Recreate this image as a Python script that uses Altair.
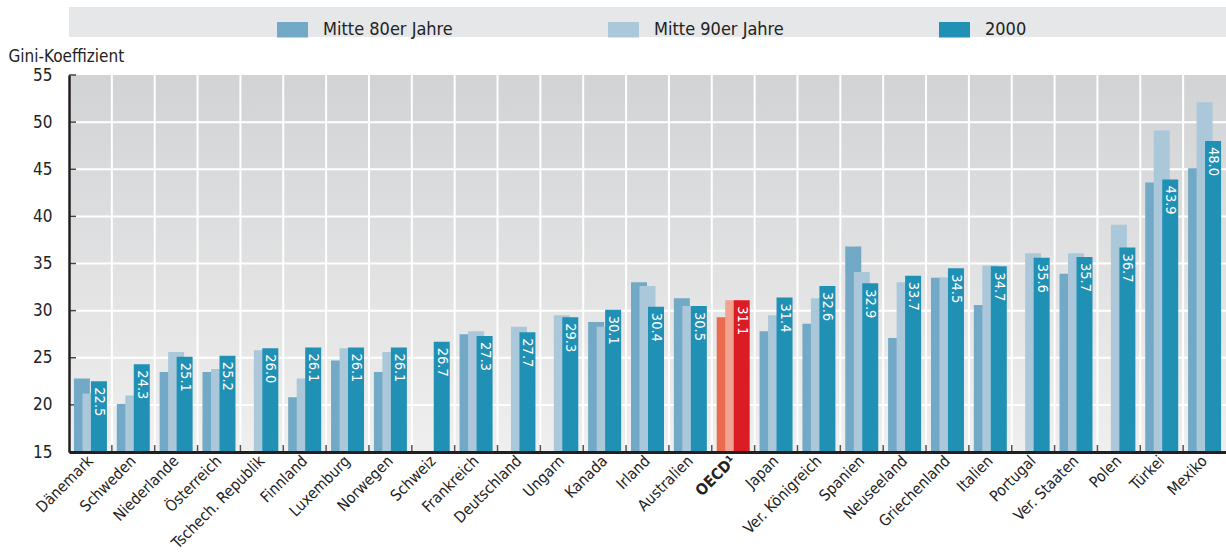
import altair as alt
import pandas as pd

countries = ["Dänemark", "Schweden", "Niederlande", "Österreich", "Tschech. Republik",
             "Finnland", "Luxemburg", "Norwegen", "Schweiz", "Frankreich", "Deutschland",
             "Ungarn", "Kanada", "Irland", "Australien", "OECD", "Japan", "Ver. Königreich",
             "Spanien", "Neuseeland", "Griechenland", "Italien", "Portugal", "Ver. Staaten",
             "Polen", "Türkei", "Mexiko"]
mid80 = [22.8, 20.1, 23.5, 23.5, None, 20.8, 24.7, 23.5, None, 27.5, None, None, 28.8, 33.0,
         31.3, 29.3, 27.8, 28.6, 36.8, 27.1, 33.5, 30.6, None, 33.9, None, 43.6, 45.1]
mid90 = [21.2, 21.0, 25.6, 23.8, 25.8, 22.8, 26.0, 25.6, None, 27.8, 28.3, 29.5, 28.3, 32.6,
         30.5, 31.1, 29.5, 31.3, 34.1, 33.0, 33.5, 34.8, 36.1, 36.1, 39.1, 49.1, 52.1]
y2000 = [22.5, 24.3, 25.1, 25.2, 26.0, 26.1, 26.1, 26.1, 26.7, 27.3, 27.7, 29.3, 30.1, 30.4,
         30.5, 31.1, 31.4, 32.6, 32.9, 33.7, 34.5, 34.7, 35.6, 35.7, 36.7, 43.9, 48.0]
series_names = ["Mitte 80er Jahre", "Mitte 90er Jahre", "2000"]
y_ticks = [15, 20, 25, 30, 35, 40, 45, 50, 55]

color_keys = series_names + ["OECD 80", "OECD 90", "OECD 2000"]
color_range = ["#71a9c6", "#aac8da", "#2190b5", "#e96b50", "#f2a38f", "#dc1c24"]

rows = []
for s, vals in zip(series_names, [mid80, mid90, y2000]):
    for c, v in zip(countries, vals):
        if v is None:
            continue
        if c == "OECD":
            key = {"Mitte 80er Jahre": "OECD 80", "Mitte 90er Jahre": "OECD 90", "2000": "OECD 2000"}[s]
        else:
            key = s
        rows.append({"country": c, "series": s, "value": v, "key": key, "label": f"{v:.1f}"})
df = pd.DataFrame(rows)

W, H = 1157, 377
BAND = W / len(countries)
FONT = "Liberation Sans Narrow, DejaVu Sans Condensed, Arial Narrow, sans-serif"

xscale = alt.Scale(domain=countries, paddingInner=0, paddingOuter=0)
yscale = alt.Scale(domain=[15, 55], nice=False, zero=False)

xenc = alt.X("country:N", scale=xscale, sort=countries,
             axis=alt.Axis(title=None, labelAngle=-45, labelAlign="right", labelBaseline="middle",
                           labelFontSize=15.5, labelFont=FONT, labelColor="#222222",
                           labelPadding=6, ticks=False, domainColor="#231f20", domainWidth=3,
                           zindex=1,
                           labelExpr="datum.value == 'OECD' ? 'OECD¹' : datum.value",
                           labelFontWeight=alt.condition("datum.value == 'OECD'", alt.value("bold"), alt.value("normal"))))

grad = alt.Gradient(gradient="linear",
                    stops=[alt.GradientStop(color="#d2d3d5", offset=0),
                           alt.GradientStop(color="#efefef", offset=1)],
                    x1=0, x2=0, y1=0, y2=1)

one = pd.DataFrame({"a": [1]})
bg = alt.Chart(one).mark_rect(fill=grad).encode(
    x=alt.value(0), x2=alt.value(W),
    y=alt.datum(55, scale=yscale), y2=alt.datum(15))

legend_box = alt.Chart(one).mark_rect(fill="#e6e7e8").encode(
    x=alt.value(0), x2=alt.value(W), y=alt.value(-68), y2=alt.value(-38))

hgrid = alt.Chart(pd.DataFrame({"t": y_ticks[1:-1]})).mark_rule(color="white", strokeWidth=2).encode(
    y=alt.Y("t:Q", scale=yscale), x=alt.value(0), x2=alt.value(W))

bound_df = pd.DataFrame({"country": countries[1:]})
vgrid = alt.Chart(bound_df).mark_rule(color="white", strokeWidth=2, xOffset=-BAND / 2).encode(
    x=alt.X("country:N", scale=xscale, sort=countries), y=alt.value(0), y2=alt.value(H))
btick = alt.Chart(bound_df).mark_rule(color="#555555", strokeWidth=1.5, xOffset=-BAND / 2).encode(
    x=alt.X("country:N", scale=xscale, sort=countries), y=alt.value(H - 7), y2=alt.value(H))

ytick = alt.Chart(pd.DataFrame({"t": y_ticks})).mark_rule(color="#444444", strokeWidth=1.5).encode(
    y=alt.Y("t:Q", scale=yscale), x=alt.value(0), x2=alt.value(7))

color = alt.Color("key:N", scale=alt.Scale(domain=color_keys, range=color_range),
                  legend=alt.Legend(title=None, values=series_names, orient="none",
                                    legendX=208, legendY=-61, direction="horizontal", columns=3,
                                    columnPadding=155, symbolType="M-1,-0.5H1V0.5H-1Z",
                                    symbolSize=961, symbolStrokeWidth=0, symbolOpacity=1,
                                    labelOffset=15, labelFontSize=18, labelFont=FONT,
                                    labelColor="#222222", padding=0))

yenc = alt.Y("value:Q", scale=yscale,
             axis=alt.Axis(title="Gini-Koeffizient", titleAngle=0, titleX=-61, titleY=-14,
                           titleAlign="left", titleBaseline="alphabetic", titleFontSize=17,
                           titleFont=FONT, titleFontWeight="normal", titleColor="#222222",
                           values=y_ticks, labelFontSize=17, labelFont=FONT, labelColor="#222222",
                           labelPadding=17, ticks=False, grid=False, domainColor="#231f20",
                           domainWidth=2.5, zindex=1))

def bars(series, off):
    return alt.Chart(df).transform_filter(alt.datum.series == series).mark_bar(
        width=16, xOffset=off).encode(x=xenc, y=yenc, y2=alt.datum(15), color=color)

b80 = bars("Mitte 80er Jahre", -8.5)
b90 = bars("Mitte 90er Jahre", 0)
b00 = bars("2000", 8.5)

labels = alt.Chart(df).transform_filter(alt.datum.series == "2000").mark_text(
    angle=90, align="left", baseline="middle", dx=6, xOffset=8.5, color="white",
    font=FONT, fontSize=14.5).encode(x=xenc, y=yenc, text="label:N")

chart = alt.layer(bg, legend_box, hgrid, vgrid, btick, ytick, b80, b90, b00, labels).properties(
    width=W, height=H, autosize="none",
    padding={"left": 69, "top": 75, "right": 0, "bottom": 108}
).configure_view(stroke=None).configure(background="white")

chart.save("out.html", embed_options={"renderer": "svg", "actions": False})
